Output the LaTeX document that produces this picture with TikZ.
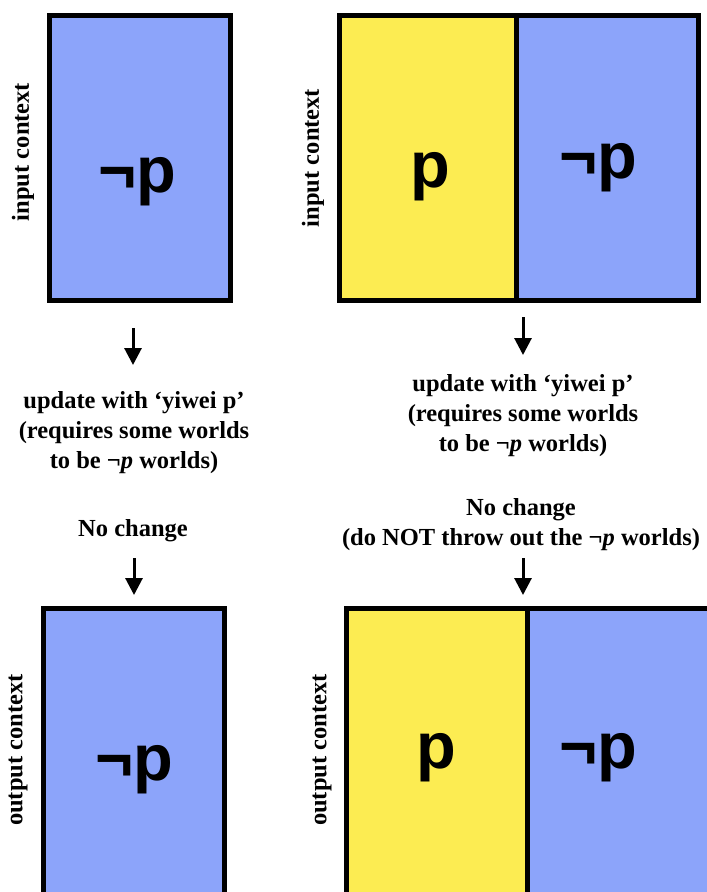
\documentclass[tikz,border=0pt]{standalone}
\usepackage{fontspec}
\setmainfont{Liberation Serif}
\newfontfamily\arialfont{Liberation Sans}
\usetikzlibrary{arrows.meta}
\definecolor{nblue}{RGB}{140,164,250}
\definecolor{nyellow}{RGB}{252,236,82}
\tikzset{
 cell/.style={draw=black, line width=5pt, inner sep=0pt, anchor=center},
 big/.style={font=\arialfont\bfseries\fontsize{65}{65}\selectfont, anchor=base, inner sep=0pt},
 lab/.style={font=\bfseries\fontsize{24.5}{30}\selectfont, align=center, anchor=base, inner sep=0pt},
 side/.style={font=\bfseries\fontsize{24.5}{30}\selectfont, rotate=90, inner sep=0pt},
 arr/.style={line width=3pt, -{Triangle[length=17pt,width=17pt]}},
}
\begin{document}
\begin{tikzpicture}[x=1pt,y=-1pt]
\useasboundingbox (0,0) rectangle (707,892);
\clip (0,0) rectangle (707,892);
% top left
\node[cell, fill=nblue, minimum width=181pt, minimum height=285pt] (tl) at (140,158) {};
\node[big] (tlt) at (137.5,192) {¬p};
\node[side] (tls) at (23,152) {input context};
% top right
\node[cell, fill=nyellow, minimum width=177pt, minimum height=285pt] (try) at (428,158) {};
\node[cell, fill=nblue, minimum width=182pt, minimum height=285pt] (trb) at (607.5,158) {};
\node[big] (tryt) at (430.5,187) {p};
\node[big] (trbt) at (598.5,178) {¬p};
\node[side] (trs) at (313,158) {input context};
% bottom left
\node[cell, fill=nblue, minimum width=181pt, minimum height=287pt] (bl) at (134,752) {};
\node[big] (blt) at (134,780) {¬p};
\node[side] (bls) at (18,750) {output context};
% bottom right
\node[cell, fill=nyellow, minimum width=181pt, minimum height=287pt] (bry) at (436.5,752) {};
\node[cell, fill=nblue, minimum width=182pt, minimum height=287pt] (brb) at (618,752) {};
\node[big] (bryt) at (436.5,768) {p};
\node[big] (brbt) at (598.5,768) {¬p};
\node[side] (brs) at (322,750) {output context};
% texts
\node[lab] (lupd) at (134,468) {update with ‘yiwei p’\\(requires some worlds\\to be ¬\textit{p} worlds)};
\node[lab] (rupd) at (523,451) {update with ‘yiwei p’\\(requires some worlds\\to be ¬\textit{p} worlds)};
\node[lab] (lnc) at (133,536) {No change};
\node[lab] (rnc) at (521,545) {No change\\(do NOT throw out the ¬\textit{p} worlds)};
% arrows
\coordinate (a1s) at (133,328); \coordinate (a1e) at (133,365);
\coordinate (a2s) at (523,317); \coordinate (a2e) at (523,355);
\coordinate (a3s) at (134,558); \coordinate (a3e) at (134,595);
\coordinate (a4s) at (523,558); \coordinate (a4e) at (523,595);
\draw[arr] (a1s) -- (a1e);
\draw[arr] (a2s) -- (a2e);
\draw[arr] (a3s) -- (a3e);
\draw[arr] (a4s) -- (a4e);
\end{tikzpicture}
\end{document}
